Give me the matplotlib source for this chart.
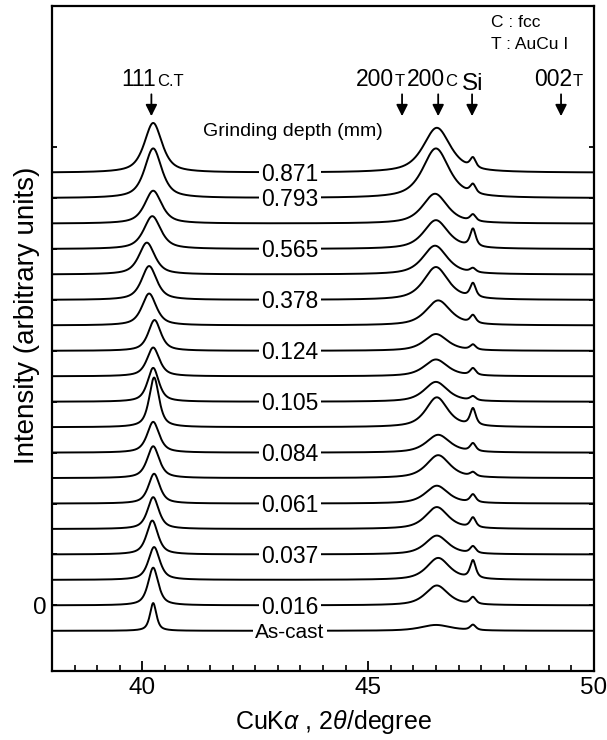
import numpy as np
import matplotlib.pyplot as plt
from matplotlib.ticker import MultipleLocator

plt.rcParams['font.family'] = ['Liberation Sans', 'DejaVu Sans', 'Noto Sans CJK JP']
plt.rcParams['mathtext.fontset'] = 'custom'
plt.rcParams['mathtext.rm'] = 'Liberation Sans'
plt.rcParams['mathtext.it'] = 'Liberation Sans:italic'

# XRD patterns, from bottom (As-cast) to top (0.871 mm), one curve per offset
depth_labels = ['As-cast', '0.016', '', '0.037', '', '0.061', '', '0.084', '',
                '0.105', '', '0.124', '', '0.378', '', '0.565', '', '0.793', '0.871']

# 111 peak (C.T)
pos_111 = [40.24, 40.24, 40.26, 40.22, 40.24, 40.26, 40.24, 40.24, 40.26, 40.24,
           40.24, 40.27, 40.15, 40.15, 40.10, 40.22, 40.24, 40.24, 40.24]
h_111 = [1.09, 1.48, 1.29, 1.33, 1.25, 1.17, 1.25, 1.21, 1.95, 1.33,
         1.13, 1.21, 1.25, 1.33, 1.25, 1.29, 1.29, 1.95, 1.95]
w_111 = [0.17, 0.27, 0.30, 0.30, 0.30, 0.30, 0.32, 0.32, 0.26, 0.30,
         0.33, 0.33, 0.38, 0.40, 0.42, 0.45, 0.45, 0.45, 0.47]

# 200 peak (C)
pos_200 = [46.50, 46.52, 46.55, 46.52, 46.52, 46.52, 46.55, 46.55, 46.52, 46.50,
           46.50, 46.50, 46.55, 46.50, 46.48, 46.50, 46.48, 46.50, 46.52]
h_200 = [0.23, 0.78, 0.86, 0.74, 0.86, 0.70, 0.90, 0.70, 1.17, 0.78,
         0.66, 0.66, 0.98, 1.29, 1.13, 1.13, 1.17, 1.95, 1.76]
w_200 = [0.80, 0.60, 0.60, 0.60, 0.60, 0.60, 0.62, 0.62, 0.58, 0.62,
         0.62, 0.62, 0.65, 0.65, 0.65, 0.65, 0.66, 0.70, 0.72]

# Si reference peak
si_pos = 47.32
si_width = 0.15
h_si = [0.21, 0.27, 0.70, 0.27, 0.39, 0.31, 0.16, 0.31, 0.66, 0.16,
        0.27, 0.20, 0.31, 0.55, 0.16, 0.70, 0.26, 0.35, 0.39]

# arrow markers on top
mark_x = [40.20, 45.75, 46.55, 47.30, 49.27]


def pv(x, x0, h, fwhm, eta=0.7):
    # pseudo-Voigt peak
    d = (x - x0) / (fwhm / 2)
    return h * (eta / (1 + d ** 2) + (1 - eta) * np.exp(-np.log(2) * d ** 2))


x = np.linspace(38, 50, 2400)

fig = plt.figure(figsize=(6.07, 7.40), dpi=100)
ax = fig.add_axes([0.0857, 0.0932, 0.8929, 0.8987])

for i, lab in enumerate(depth_labels):
    base = i - 1
    y = (base + pv(x, pos_111[i], h_111[i], w_111[i])
         + pv(x, pos_200[i], h_200[i], w_200[i])
         + pv(x, si_pos, h_si[i], si_width))
    ax.plot(x, y, color='black', lw=1.4)
    if lab:
        fs = 15 if lab == 'As-cast' else 16.5
        ax.text(43.27, base - (0.27 if lab == 'As-cast' else 0.32), lab,
                ha='center', va='baseline', fontsize=fs, zorder=5,
                bbox=dict(boxstyle='square,pad=0.12', fc='white', ec='none'))

# peak arrows
for mx in mark_x:
    ax.annotate('', xy=(mx, 19.22), xytext=(mx, 20.08),
                arrowprops=dict(arrowstyle='-|>', color='black', lw=1.3,
                                mutation_scale=17, shrinkA=0, shrinkB=0))

yl = 20.39
ax.text(40.30, yl, '111', ha='right', va='baseline', fontsize=16.5)
ax.text(40.32, yl, 'C.T', ha='left', va='baseline', fontsize=12)
ax.text(45.57, yl, '200', ha='right', va='baseline', fontsize=16.5)
ax.text(45.58, yl, 'T', ha='left', va='baseline', fontsize=12)
ax.text(46.70, yl, '200', ha='right', va='baseline', fontsize=16.5)
ax.text(46.71, yl, 'C', ha='left', va='baseline', fontsize=12)
ax.text(47.32, yl - 0.15, 'Si', ha='center', va='baseline', fontsize=17.5)
ax.text(49.51, yl, '002', ha='right', va='baseline', fontsize=16.5)
ax.text(49.52, yl, 'T', ha='left', va='baseline', fontsize=12)

ax.text(43.33, 18.63, 'Grinding depth (mm)', ha='center', va='center', fontsize=14)
ax.text(47.72, 22.9, 'C : fcc', ha='left', va='center', fontsize=12.5)
ax.text(47.72, 22.03, 'T : AuCu I', ha='left', va='center', fontsize=12.5)

ax.set_xlim(38, 50)
ax.set_ylim(-2.58, 23.55)
ax.xaxis.set_major_locator(MultipleLocator(5))
ax.xaxis.set_minor_locator(MultipleLocator(0.5))
ax.set_yticks(np.arange(0, 19, 2))
ax.set_yticklabels(['0'] + [''] * 9)
ax.tick_params(axis='x', which='major', direction='in', length=7, width=1.3,
               labelsize=17.5, pad=4)
ax.tick_params(axis='x', which='minor', direction='in', length=4.5, width=1.2)
ax.tick_params(axis='y', direction='in', length=3.5, width=1.3, right=True,
               labelsize=17.5, pad=4)
for s in ax.spines.values():
    s.set_linewidth(1.6)

fig.text(0.045, 0.574, 'Intensity (arbitrary units)', rotation=90,
         ha='center', va='center', fontsize=20)
fig.text(0.55, 0.0243, r'CuK$\alpha$ , 2$\theta$/degree', ha='center',
         va='center', fontsize=18)

fig.savefig('out.png', dpi=100)
